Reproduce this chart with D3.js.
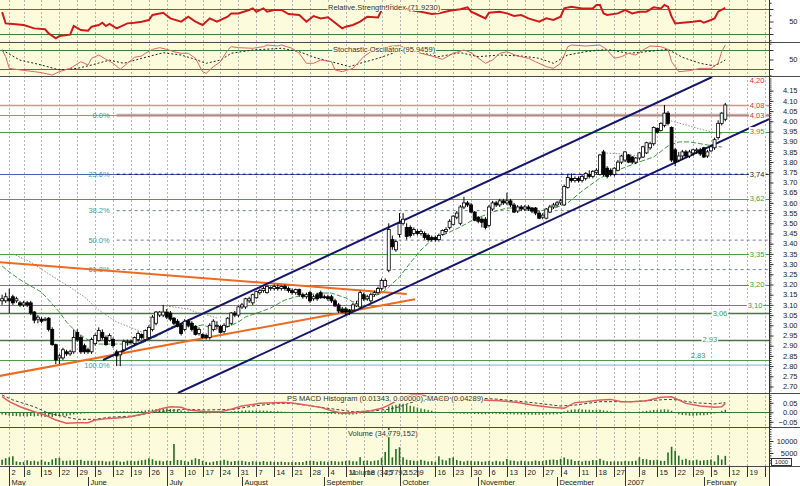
<!DOCTYPE html>
<html>
<head>
<meta charset="utf-8">
<script src="https://cdn.jsdelivr.net/npm/d3@7/dist/d3.min.js"></script>
<style>
  body { margin: 0; background: #fff; }
  text { font-family: 'Liberation Sans', Arial, sans-serif; font-size: 7.5px; }
</style>
</head>
<body>
<div id="chart"></div>
<script>
/* global d3 */

// ----------------------------------------
// Data
// ----------------------------------------

const holidays = ['2006-05-01', '2006-12-25', '2006-12-26', '2007-01-01']

const opens = [
  3.12, 3.12, 3.13, 3.14, 3.12, 3.11, 3.10, 3.11, 3.11, 3.065,
  3.03, 3.03, 3.03, 3.035, 2.98, 2.905, 2.84, 2.84, 2.87, 2.86,
  2.87, 2.965, 2.94, 2.90, 2.88, 2.87, 2.91, 2.925, 2.965, 2.94,
  2.925, 2.93, 2.87, 2.855, 2.88, 2.915, 2.92, 2.91, 2.93, 2.955,
  2.93, 2.94, 2.98, 3.01, 3.05, 3.05, 3.065, 3.06, 3.035, 3.02,
  3.00, 2.98, 3.02, 3.01, 2.995, 2.96, 2.955, 2.95, 2.94, 2.98,
  3.00, 2.995, 2.97, 2.995, 3.01, 3.06, 3.05, 3.09, 3.09, 3.12,
  3.11, 3.135, 3.16, 3.17, 3.16, 3.18, 3.18, 3.185, 3.18, 3.19,
  3.18, 3.17, 3.16, 3.175, 3.15, 3.14, 3.16, 3.13, 3.15, 3.16,
  3.14, 3.14, 3.14, 3.12, 3.10, 3.08, 3.08, 3.075, 3.075, 3.095,
  3.09, 3.15, 3.13, 3.12, 3.15, 3.16, 3.18, 3.19, 3.27, 3.42,
  3.37, 3.445, 3.50, 3.48, 3.48, 3.45, 3.46, 3.45, 3.45, 3.44,
  3.43, 3.43, 3.42, 3.445, 3.46, 3.48, 3.495, 3.53, 3.50, 3.58,
  3.60, 3.59, 3.555, 3.53, 3.52, 3.52, 3.49, 3.57, 3.60, 3.59,
  3.61, 3.60, 3.61, 3.59, 3.56, 3.58, 3.57, 3.58, 3.575, 3.575,
  3.55, 3.53, 3.525, 3.555, 3.58, 3.59, 3.60, 3.59, 3.675, 3.72,
  3.71, 3.72, 3.71, 3.72, 3.74, 3.73, 3.75, 3.74, 3.85, 3.77,
  3.76, 3.74, 3.76, 3.80, 3.81, 3.835, 3.825, 3.80, 3.82, 3.825,
  3.845, 3.87, 3.89, 3.965, 3.955, 3.98, 4.04, 3.97, 3.86, 3.81,
  3.83, 3.85, 3.83, 3.845, 3.855, 3.86, 3.87, 3.83, 3.855, 3.87,
  3.92, 3.99, 4.01
]
const highs = [
  3.15, 3.16, 3.18, 3.15, 3.14, 3.12, 3.12, 3.12, 3.12, 3.07,
  3.05, 3.04, 3.04, 3.04, 2.99, 2.91, 2.86, 2.89, 2.88, 2.88,
  2.98, 2.98, 2.95, 2.91, 2.89, 2.94, 2.96, 2.99, 2.98, 2.95,
  2.96, 2.94, 2.88, 2.87, 2.93, 2.93, 2.93, 2.945, 2.97, 2.96,
  2.98, 3.00, 3.05, 3.07, 3.07, 3.10, 3.08, 3.07, 3.04, 3.03,
  3.01, 3.03, 3.03, 3.02, 3.00, 2.99, 2.96, 2.96, 3.01, 3.03,
  3.02, 3.00, 3.01, 3.04, 3.065, 3.07, 3.095, 3.11, 3.135, 3.14,
  3.155, 3.17, 3.18, 3.19, 3.195, 3.19, 3.20, 3.20, 3.195, 3.20,
  3.19, 3.18, 3.18, 3.18, 3.16, 3.16, 3.17, 3.15, 3.16, 3.17,
  3.15, 3.15, 3.15, 3.13, 3.11, 3.09, 3.09, 3.08, 3.11, 3.12,
  3.17, 3.16, 3.15, 3.16, 3.17, 3.19, 3.23, 3.23, 3.50, 3.44,
  3.42, 3.55, 3.55, 3.50, 3.49, 3.48, 3.47, 3.47, 3.46, 3.45,
  3.44, 3.44, 3.45, 3.47, 3.48, 3.52, 3.54, 3.56, 3.59, 3.63,
  3.61, 3.60, 3.56, 3.535, 3.53, 3.53, 3.59, 3.61, 3.61, 3.62,
  3.62, 3.65, 3.62, 3.60, 3.59, 3.59, 3.59, 3.59, 3.58, 3.58,
  3.56, 3.55, 3.575, 3.59, 3.60, 3.61, 3.62, 3.69, 3.74, 3.745,
  3.73, 3.73, 3.74, 3.75, 3.76, 3.76, 3.77, 3.84, 3.86, 3.78,
  3.77, 3.775, 3.81, 3.835, 3.855, 3.84, 3.83, 3.825, 3.85, 3.88,
  3.90, 3.90, 3.975, 3.97, 3.995, 4.08, 4.05, 3.975, 3.87, 3.85,
  3.86, 3.86, 3.86, 3.865, 3.87, 3.87, 3.875, 3.86, 3.885, 3.92,
  4.005, 4.045, 4.09
]
const lows = [
  3.10, 3.11, 3.06, 3.10, 3.11, 3.09, 3.09, 3.09, 3.05, 3.01,
  3.01, 3.01, 3.02, 2.97, 2.90, 2.81, 2.81, 2.83, 2.85, 2.85,
  2.86, 2.92, 2.86, 2.86, 2.86, 2.86, 2.90, 2.92, 2.93, 2.90,
  2.92, 2.89, 2.80, 2.80, 2.87, 2.90, 2.91, 2.90, 2.92, 2.93,
  2.92, 2.93, 2.97, 3.00, 3.04, 3.04, 3.03, 3.02, 3.00, 2.99,
  2.95, 2.97, 2.99, 2.97, 2.95, 2.95, 2.935, 2.93, 2.93, 2.97,
  2.98, 2.96, 2.96, 2.99, 3.00, 3.04, 3.04, 3.08, 3.08, 3.11,
  3.10, 3.13, 3.15, 3.16, 3.155, 3.17, 3.17, 3.17, 3.17, 3.17,
  3.16, 3.15, 3.15, 3.14, 3.13, 3.13, 3.11, 3.12, 3.12, 3.13,
  3.13, 3.12, 3.11, 3.09, 3.06, 3.06, 3.05, 3.05, 3.07, 3.09,
  3.08, 3.12, 3.12, 3.11, 3.14, 3.15, 3.17, 3.18, 3.26, 3.37,
  3.36, 3.43, 3.49, 3.42, 3.43, 3.44, 3.44, 3.44, 3.42, 3.41,
  3.41, 3.41, 3.41, 3.44, 3.45, 3.47, 3.49, 3.52, 3.49, 3.57,
  3.58, 3.55, 3.51, 3.50, 3.48, 3.47, 3.48, 3.56, 3.58, 3.58,
  3.59, 3.59, 3.58, 3.55, 3.55, 3.56, 3.56, 3.56, 3.55, 3.54,
  3.52, 3.52, 3.52, 3.55, 3.57, 3.58, 3.59, 3.585, 3.67, 3.70,
  3.70, 3.70, 3.70, 3.71, 3.72, 3.72, 3.74, 3.735, 3.73, 3.72,
  3.73, 3.73, 3.755, 3.79, 3.80, 3.795, 3.79, 3.79, 3.81, 3.82,
  3.84, 3.86, 3.88, 3.94, 3.95, 3.97, 3.98, 3.80, 3.78, 3.80,
  3.81, 3.82, 3.82, 3.83, 3.84, 3.83, 3.82, 3.82, 3.85, 3.86,
  3.91, 3.98, 4.00
]
const closes = [
  3.13, 3.14, 3.12, 3.11, 3.13, 3.10, 3.11, 3.10, 3.06, 3.025,
  3.04, 3.02, 3.03, 2.98, 2.905, 2.83, 2.85, 2.88, 2.86, 2.87,
  2.94, 2.93, 2.87, 2.87, 2.87, 2.93, 2.95, 2.975, 2.94, 2.905,
  2.95, 2.90, 2.85, 2.87, 2.92, 2.92, 2.915, 2.94, 2.96, 2.94,
  2.975, 2.99, 3.04, 3.065, 3.065, 3.065, 3.04, 3.03, 3.01, 2.995,
  2.96, 3.02, 3.00, 2.98, 2.955, 2.98, 2.94, 2.94, 3.00, 3.02,
  3.00, 2.965, 3.00, 3.035, 3.06, 3.05, 3.09, 3.10, 3.13, 3.13,
  3.15, 3.165, 3.17, 3.18, 3.19, 3.185, 3.19, 3.18, 3.19, 3.18,
  3.17, 3.16, 3.175, 3.15, 3.14, 3.15, 3.12, 3.14, 3.13, 3.135,
  3.135, 3.13, 3.12, 3.095, 3.07, 3.065, 3.065, 3.065, 3.10, 3.105,
  3.16, 3.13, 3.14, 3.15, 3.16, 3.18, 3.22, 3.22, 3.47, 3.385,
  3.41, 3.50, 3.52, 3.435, 3.44, 3.47, 3.45, 3.46, 3.43, 3.42,
  3.42, 3.42, 3.44, 3.465, 3.47, 3.51, 3.535, 3.55, 3.58, 3.60,
  3.59, 3.555, 3.515, 3.51, 3.505, 3.48, 3.58, 3.60, 3.59, 3.61,
  3.60, 3.61, 3.59, 3.555, 3.58, 3.57, 3.58, 3.57, 3.56, 3.55,
  3.525, 3.54, 3.57, 3.58, 3.59, 3.60, 3.61, 3.68, 3.725, 3.71,
  3.72, 3.71, 3.73, 3.745, 3.73, 3.755, 3.76, 3.835, 3.74, 3.73,
  3.74, 3.77, 3.80, 3.83, 3.85, 3.80, 3.80, 3.82, 3.845, 3.875,
  3.895, 3.89, 3.97, 3.945, 3.99, 4.04, 3.99, 3.81, 3.80, 3.83,
  3.85, 3.83, 3.85, 3.86, 3.86, 3.84, 3.825, 3.85, 3.875, 3.91,
  3.99, 4.04, 4.08
]

const volumes = [
  2200, 2800, 3200, 3600, 1500, 1200, 1300, 2000, 1600, 1800,
  1500, 2200, 1500, 1300, 2300, 2800, 3000, 1800, 1800, 1900,
  1900, 2100, 2200, 1700, 1800, 1800, 1600, 1800, 1700, 1500,
  1500, 1800, 1800, 1400, 1400, 1800, 1800, 1600, 1800, 2000,
  2200, 2800, 2400, 1800, 1800, 1500, 1800, 1700, 8800, 2100,
  2000, 1600, 1400, 2200, 2800, 2500, 1700, 1400, 1100, 1400,
  1700, 1800, 2200, 1800, 1400, 1700, 1700, 1800, 1500, 1300,
  1600, 1400, 1400, 1700, 1400, 1500, 1200, 1300, 1400, 1200,
  1200, 1300, 1200, 1200, 1300, 1700, 1800, 1700, 1400, 1600,
  1500, 1300, 1700, 1600, 1400, 1500, 1700, 1900, 1600, 1500,
  3200, 1700, 1900, 1600, 1800, 2000, 3000, 5400, 16500, 3200,
  6700, 7400, 3200, 2200, 2000, 1800, 1600, 2200, 1800, 1500,
  1600, 1300, 3600, 2200, 1900, 2900, 3200, 2100, 1700, 1500,
  1800, 1700, 1500, 1600, 1400, 1500, 1700, 1400, 1800, 1500,
  1500, 2500, 1900, 1800, 1500, 1800, 1600, 1500, 1600, 1900,
  1700, 1600, 2000, 2200, 2300, 2100, 2600, 3100, 2400, 2300,
  1700, 1700, 1500, 1800, 1700, 2100, 2000, 2600, 1900, 1600,
  1500, 1500, 1600, 1500, 1700, 1600, 1600, 1800, 3200, 2500,
  2400, 2100, 2000, 2200, 1800, 1700, 5200, 7600, 5900, 3900,
  2200, 2600, 2000, 1900, 2200, 1800, 2000, 2100, 2300, 1500,
  4100, 2300, 3800
]

const macdHist = [
  -0.012, -0.015, -0.018, -0.02, -0.02, -0.022, -0.02, -0.022, -0.02, -0.022,
  -0.02, -0.022, -0.025, -0.022, -0.025, -0.02, -0.02, -0.018, -0.02, -0.015,
  -0.012, -0.01, -0.008, -0.006, -0.005, -0.004, -0.003, -0.002, -0.002, -0.001,
  0.002, 0.002, 0.004, 0.004, 0.005, 0.005, 0.004, 0.005, 0.006, 0.008,
  0.01, 0.012, 0.015, 0.018, 0.02, 0.02, 0.02, 0.018, 0.016, 0.014,
  0.01, 0.006, 0.004, 0.002, -0.002, -0.004, -0.005, -0.006, -0.005, -0.004,
  -0.003, -0.002, -0.002, 0.002, 0.004, 0.006, 0.008, 0.009, 0.01, 0.01,
  0.01, 0.01, 0.01, 0.009, 0.008, 0.007, 0.006, 0.005, 0.004, 0.003,
  0.002, 0.002, 0.001, -0.001, -0.002, -0.003, -0.004, -0.004, -0.005, -0.005,
  -0.006, -0.007, -0.008, -0.009, -0.01, -0.011, -0.012, -0.012, -0.011, -0.01,
  -0.006, -0.005, -0.004, -0.003, -0.002, 0.0, 0.005, 0.01, 0.03, 0.035,
  0.04, 0.045, 0.045, 0.04, 0.035, 0.03, 0.025, 0.02, 0.016, 0.012,
  0.008, 0.004, 0.002, -0.002, -0.004, -0.005, -0.006, -0.006, -0.007, -0.007,
  -0.008, -0.008, -0.009, -0.009, -0.01, -0.01, -0.009, -0.008, -0.008, -0.009,
  -0.009, -0.01, -0.01, -0.011, -0.011, -0.012, -0.012, -0.012, -0.013, -0.013,
  -0.013, -0.013, -0.012, -0.012, -0.011, -0.01, -0.008, 0.004, 0.01, 0.014,
  0.016, 0.016, 0.015, 0.014, 0.013, 0.012, 0.012, 0.013, 0.01, 0.008,
  0.006, 0.004, 0.002, 0.002, 0.003, 0.003, 0.002, 0.002, 0.004, 0.006,
  0.008, 0.01, 0.012, 0.014, 0.015, 0.016, 0.015, 0.008, -0.004, -0.01,
  -0.014, -0.016, -0.018, -0.018, -0.017, -0.016, -0.015, -0.013, -0.01, -0.006,
  0.002, 0.008, 0.014
]

// indicator lines as [trading day index, value]
const rsiPts = [[0, 65], [1, 47], [3, 46], [6, 44.4], [9, 39], [12, 37.5], [13, 31], [15, 23], [16, 26.8], [19, 29], [20, 42.8], [22, 36.4], [24, 35.3], [25, 41.7], [27, 44.4], [28, 48], [29, 42.8], [30, 46], [32, 39], [35, 47], [37, 48], [39, 49.7], [41, 52.4], [42, 60.4], [45, 64], [47, 55], [50, 49.7], [52, 57.7], [54, 49.7], [56, 44.4], [58, 55], [60, 49.7], [63, 57.7], [64, 63], [66, 63], [69, 68.4], [70, 71], [71, 65.7], [73, 71], [74, 65.7], [76, 68.4], [78, 68.4], [80, 62], [83, 60.4], [85, 49.7], [87, 58.8], [89, 55], [91, 56.6], [92, 52.4], [95, 39], [96, 41.7], [98, 44.4], [100, 49.7], [102, 57.7], [105, 56.6], [106, 68.4], [108, 76.4], [111, 72.5], [114, 68.4], [117, 65.7], [120, 62], [122, 63], [125, 67.3], [128, 69.5], [130, 72.7], [131, 65.7], [133, 60.4], [135, 55], [136, 64], [139, 65.7], [141, 63], [143, 58.8], [145, 60.4], [147, 55], [150, 49.7], [152, 55], [154, 52.4], [156, 57.7], [157, 71], [159, 73.7], [162, 71], [165, 71], [166, 76.4], [167, 76.4], [168, 63], [169, 60.4], [172, 63], [174, 68.4], [176, 63], [178, 65.7], [180, 65.7], [182, 72.7], [184, 71], [185, 76.4], [186, 73.7], [187, 57.7], [188, 47], [190, 48], [193, 49.7], [195, 51.3], [196, 48], [198, 52.4], [199, 55], [200, 65.7], [202, 71.9]]

const stoKPts = [[0, 80], [1, 59], [2, 22], [5, 17], [9, 11.6], [11, 8.4], [14, 1], [16, 11.6], [19, 22], [22, 43], [24, 32.6], [25, 53.8], [27, 64.2], [29, 50.6], [31, 38], [33, 19], [35, 38], [37, 57], [39, 61], [40, 69.6], [42, 82], [44, 87.4], [46, 82], [48, 74.7], [50, 69.6], [52, 69.6], [54, 53.8], [56, 11.6], [57, 6.4], [59, 27.4], [61, 43], [63, 80], [64, 90.5], [66, 87.4], [70, 85.4], [73, 90.5], [74, 95.8], [77, 92.6], [78, 95.8], [81, 85.4], [83, 69.6], [85, 38], [87, 38], [89, 48.4], [92, 43], [93, 17], [95, 11.6], [98, 22], [101, 59], [103, 74.7], [105, 85.4], [107, 90.5], [111, 94], [114, 80], [117, 69.6], [120, 61], [123, 50.6], [126, 69.6], [129, 80], [131, 71.5], [135, 38], [137, 48.4], [139, 69.6], [141, 74.7], [144, 61], [147, 53.8], [149, 43], [152, 27.4], [154, 22], [156, 38], [158, 90.5], [159, 95.8], [163, 92.6], [167, 95.8], [169, 80], [171, 53.8], [173, 59], [175, 69.6], [177, 64.2], [179, 80], [181, 92.6], [184, 90.5], [186, 82], [187, 43], [189, 11.6], [192, 14.8], [195, 22], [198, 22], [200, 38], [201, 74.7], [202, 95.9]]

const stoDPts = [[0, 80], [5, 48], [11, 32.6], [16, 17], [21, 22], [25, 32.6], [30, 48], [34, 38], [39, 53.8], [45, 71.5], [50, 64.2], [53, 53.8], [57, 38], [61, 48.4], [64, 69.6], [70, 80], [78, 85.4], [83, 74.7], [88, 53.8], [92, 43], [97, 27.4], [100, 38], [105, 53.8], [111, 77], [117, 71.5], [122, 59], [128, 71.5], [133, 59], [139, 64.2], [145, 61], [150, 53.8], [154, 38], [158, 64.2], [163, 74.7], [169, 82], [175, 69.6], [180, 74.7], [186, 82], [190, 57], [195, 38], [199, 29.5], [202, 48.4]]

const macdPts = [[0, 0.082], [2, 0.056], [5, 0.029], [9, 0.003], [12, -0.014], [15, -0.041], [18, -0.058], [21, -0.055], [24, -0.055], [26, -0.041], [30, -0.032], [35, -0.026], [38, -0.014], [42, 0.003], [45, 0.021], [47, 0.029], [50, 0.026], [52, 0.012], [57, 0.003], [61, 0.003], [64, 0.016], [67, 0.033], [72, 0.047], [78, 0.051], [80, 0.051], [83, 0.044], [89, 0.026], [92, 0.008], [95, -0.005], [98, -0.002], [103, 0.008], [106, 0.021], [108, 0.038], [111, 0.07], [114, 0.09], [117, 0.091], [120, 0.082], [122, 0.074], [125, 0.074], [130, 0.068], [134, 0.065], [139, 0.061], [144, 0.051], [148, 0.038], [153, 0.026], [157, 0.021], [160, 0.051], [163, 0.056], [167, 0.065], [170, 0.068], [173, 0.056], [176, 0.056], [180, 0.061], [184, 0.079], [187, 0.082], [189, 0.065], [191, 0.047], [195, 0.033], [199, 0.026], [201, 0.029], [202, 0.047]]

const signalPts = [[0, 0.091], [3, 0.065], [9, 0.029], [13, -0.005], [18, -0.026], [21, -0.037], [26, -0.037], [30, -0.026], [37, -0.019], [41, -0.005], [46, 0.008], [51, 0.016], [57, 0.012], [65, 0.016], [70, 0.033], [77, 0.047], [81, 0.047], [88, 0.029], [93, 0.016], [98, 0.003], [104, 0.008], [108, 0.016], [111, 0.029], [114, 0.05], [117, 0.065], [122, 0.074], [128, 0.076], [134, 0.074], [139, 0.068], [148, 0.051], [156, 0.033], [160, 0.038], [167, 0.056], [176, 0.056], [186, 0.068], [189, 0.065], [193, 0.051], [199, 0.044], [202, 0.051]]

const maPts = [[0, 3.291], [2, 3.261], [6, 3.212], [11, 3.163], [13, 3.124], [16, 3.065], [18, 3.016], [21, 2.962], [25, 2.918], [27, 2.908], [35, 2.908], [39, 2.913], [41, 2.928], [44, 2.953], [47, 2.992], [50, 3.002], [53, 2.992], [56, 3.002], [60, 2.977], [63, 2.992], [66, 3.016], [68, 3.041], [72, 3.065], [75, 3.085], [79, 3.124], [83, 3.144], [89, 3.158], [92, 3.158], [96, 3.134], [98, 3.114], [102, 3.129], [106, 3.158], [108, 3.188], [111, 3.237], [114, 3.306], [117, 3.369], [120, 3.418], [122, 3.433], [125, 3.457], [128, 3.482], [132, 3.521], [137, 3.555], [141, 3.575], [145, 3.575], [148, 3.56], [153, 3.565], [158, 3.60], [162, 3.658], [167, 3.722], [172, 3.761], [178, 3.801], [182, 3.825], [186, 3.879], [189, 3.899], [192, 3.899], [197, 3.884], [201, 3.874]]

const sarSegs = [
  [[3, 3.35], [8, 3.31], [13, 3.252], [18, 3.198], [23, 3.139], [27, 3.075], [32, 3.016], [37, 2.982], [39, 2.967]],
  [[45, 3.095], [48, 3.09], [52, 3.08], [54, 3.065], [57, 3.051], [60, 3.036]],
  [[168, 3.845], [173, 3.84], [178, 3.83]],
  [[186, 4.006], [192, 3.977], [196, 3.957], [201, 3.938]]
]

// trend lines, [day index, price]
const channelUpper = [[28.2, 2.83], [198.3, 4.217]]
const channelLower = [[49.1, 2.668], [214.2, 4.011]]
const orangeTop = [[-0.6, 3.309], [113, 3.154]]
const orangeBottom = [[-0.6, 2.752], [115.3, 3.128]]

// horizontal levels
const levels = [4.20, 4.08, 4.03, 3.95, 3.74, 3.62, 3.35, 3.20, 3.10, 3.06, 2.93, 2.83]
const levelLabelAt = [210.9, 210.9, 210.9, 210.9, 210.9, 210.9, 210.9, 210.9, 210.3, 200.5, 197.7, 194.4]

// fibonacci retracement
const fibHigh = 4.03
const fibLow = 2.805
const fibStart = 32
const fibRatios = [0, 0.236, 0.382, 0.5, 0.618, 1]

// time axis
const weekTicks = ['2006-05-02', '2006-05-08', '2006-05-15', '2006-05-22', '2006-05-29', '2006-06-05', '2006-06-12', '2006-06-19', '2006-06-26', '2006-07-03', '2006-07-10', '2006-07-17', '2006-07-24', '2006-07-31', '2006-08-07', '2006-08-14', '2006-08-21', '2006-08-28', '2006-09-04', '2006-09-11', '2006-09-18', '2006-09-25', '2006-10-02', '2006-10-09', '2006-10-16', '2006-10-23', '2006-10-30', '2006-11-06', '2006-11-13', '2006-11-20', '2006-11-27', '2006-12-04', '2006-12-11', '2006-12-18', '2006-12-27', '2007-01-02', '2007-01-08', '2007-01-15', '2007-01-22', '2007-01-29', '2007-02-05', '2007-02-12', '2007-02-19', '2007-02-26']
const weekLabels = ['2', '8', '15', '22', '29', '5', '12', '19', '26', '3', '10', '17', '24', '31', '7', '14', '21', '28', '4', '11', '18', '25', '2', '9', '16', '23', '30', '6', '13', '20', '27', '4', '11', '18', '27', '', '8', '15', '22', '29', '5', '12', '19', '']
const monthTicks = ['2006-05-02', '2006-06-01', '2006-07-03', '2006-08-01', '2006-09-01', '2006-10-02', '2006-11-01', '2006-12-01', '2007-01-02', '2007-02-01']
const monthLabels = ['May', 'June', 'July', 'August', 'September', 'October', 'November', 'December', '2007', 'February']

// trading calendar
const fmtDay = d3.timeFormat('%Y-%m-%d')
const tradingDays = d3.timeDay.range(new Date(2006, 3, 27), new Date(2007, 2, 1))
  .filter(d => d.getDay() !== 0 && d.getDay() !== 6)
  .map(fmtDay)
  .filter(d => holidays.indexOf(d) === -1)

// ----------------------------------------
// Layout
// ----------------------------------------

const width = 800
const height = 486
const plotR = 769
const yellow = '#fcfcdc'

const x = d3.scaleLinear().domain([0, 202]).range([2.1, 725.3])
const yPrice = d3.scaleLinear().domain([2.70, 4.15]).range([386.5, 90.7])
const yRsi = d3.scaleLinear().domain([30, 70]).range([34, 9])
const ySto = d3.scaleLinear().domain([20, 80]).range([69, 50])
const yMacd = d3.scaleLinear().domain([-0.05, 0.05]).range([421.8, 402.8])
const yVol = d3.scaleLinear().domain([0, 10000]).range([465, 441])

const svg = d3.select('#chart').append('svg')
  .attr('width', width)
  .attr('height', height)
  .style('display', 'block')

const panels = [
  { top: 0, bottom: 42, fill: yellow },
  { top: 42, bottom: 76, fill: yellow },
  { top: 76, bottom: 393, fill: '#ffffff' },
  { top: 393, bottom: 427, fill: yellow },
  { top: 427, bottom: 466, fill: yellow },
  { top: 466, bottom: 486, fill: yellow }
]

svg.append('rect').attr('width', width).attr('height', height).attr('fill', '#fff')
svg.selectAll('rect.panel').data(panels).enter().append('rect')
  .attr('class', 'panel')
  .attr('x', 0).attr('y', d => d.top)
  .attr('width', plotR).attr('height', d => d.bottom - d.top)
  .attr('fill', d => d.fill)

const defs = svg.append('defs')
function clip (id, top, bottom) {
  defs.append('clipPath').attr('id', id).append('rect')
    .attr('x', 0).attr('y', top).attr('width', plotR).attr('height', bottom - top)
  return 'url(#' + id + ')'
}

// weekly grid
const weekIdx = weekTicks.map(d => tradingDays.indexOf(d))
svg.append('g').selectAll('line').data(weekIdx).enter().append('line')
  .attr('x1', d => Math.round(x(d)) + 0.5).attr('x2', d => Math.round(x(d)) + 0.5)
  .attr('y1', 0).attr('y2', 466)
  .attr('stroke', '#b5b5b5').attr('stroke-dasharray', '2,2')

// ----------------------------------------
// RSI and stochastic
// ----------------------------------------

const lineOf = y => d3.line().x(d => x(d[0])).y(d => y(d[1]))

const rsiG = svg.append('g').attr('clip-path', clip('clipRsi', 0, 42))
rsiG.selectAll('line').data([70, 30]).enter().append('line')
  .attr('x1', 0).attr('x2', plotR)
  .attr('y1', d => yRsi(d) + 0.5).attr('y2', d => yRsi(d) + 0.5)
  .attr('stroke', '#3b7d3b')
rsiG.append('path').datum(rsiPts).attr('d', lineOf(yRsi))
  .attr('fill', 'none').attr('stroke', '#d01a1a').attr('stroke-width', 2)

const stoG = svg.append('g').attr('clip-path', clip('clipSto', 42, 76))
stoG.selectAll('line').data([80, 20]).enter().append('line')
  .attr('x1', 0).attr('x2', plotR)
  .attr('y1', d => ySto(d) + 0.5).attr('y2', d => ySto(d) + 0.5)
  .attr('stroke', '#3b7d3b')
stoG.append('path').datum(stoDPts).attr('d', lineOf(ySto))
  .attr('fill', 'none').attr('stroke', '#222').attr('stroke-dasharray', '2,2')
stoG.append('path').datum(stoKPts).attr('d', lineOf(ySto))
  .attr('fill', 'none').attr('stroke', '#e06464').attr('stroke-width', 1)

// ----------------------------------------
// Price panel
// ----------------------------------------

const main = svg.append('g').attr('clip-path', clip('clipMain', 77, 393))

const levelColor = ['none', '#e58a8a', '#e07474', '#4e9a4e', '#4a5fb0', '#4e9a4e', '#4e9a4e', '#4e9a4e', '#4e9a4e', '#4f6f4f', '#4f6f4f', '#4e9a4e']
const levelWidth = [0, 1.5, 1, 1, 1, 1, 1, 1, 1, 1.5, 1.5, 1]
const labelColor = ['#e03030', '#e03030', '#e03030', '#3a9f3a', '#222', '#3a9f3a', '#3a9f3a', '#3a9f3a', '#3a9f3a', '#3a9f3a', '#3a9f3a', '#3a9f3a']

// fib levels
const fibs = fibRatios.map(r => ({ r, p: fibHigh - r * (fibHigh - fibLow) }))
const fibStyle = {
  0: { c: '#c9a9a9', w: 3, dash: null },
  0.236: { c: '#1c2a78', w: 1, dash: '3,3' },
  0.382: { c: '#6f7d9a', w: 1, dash: '3,3' },
  0.5: { c: '#6f7d9a', w: 1, dash: '3,3' },
  0.618: { c: '#6f7d9a', w: 1, dash: '3,3' },
  1: { c: '#72b6d6', w: 1, dash: null }
}
main.selectAll('line.fib').data(fibs).enter().append('line')
  .attr('class', 'fib')
  .attr('x1', x(fibStart)).attr('x2', plotR)
  .attr('y1', d => yPrice(d.p)).attr('y2', d => yPrice(d.p))
  .attr('stroke', d => fibStyle[d.r].c)
  .attr('stroke-width', d => fibStyle[d.r].w)
  .attr('stroke-dasharray', d => fibStyle[d.r].dash)

main.selectAll('line.level').data(levels).enter().append('line')
  .attr('class', 'level')
  .attr('x1', 0).attr('x2', plotR)
  .attr('y1', d => Math.round(yPrice(d)) + 0.5).attr('y2', d => Math.round(yPrice(d)) + 0.5)
  .attr('stroke', (d, i) => levelColor[i])
  .attr('stroke-width', (d, i) => levelWidth[i])

// 23.6% dashes sit on top of the 3.74 line
main.append('line')
  .attr('x1', x(fibStart)).attr('x2', plotR)
  .attr('y1', Math.round(yPrice(fibs[1].p)) + 0.5).attr('y2', Math.round(yPrice(fibs[1].p)) + 0.5)
  .attr('stroke', '#1c2a78').attr('stroke-dasharray', '3,3')

main.selectAll('text.fib').data(fibs).enter().append('text')
  .attr('class', 'fib')
  .attr('x', x(fibStart) - 7)
  .attr('y', d => yPrice(d.p) + 2.5)
  .attr('text-anchor', 'end')
  .attr('fill', '#3d9a9a')
  .text(d => d3.format('.1f')(d.r * 100) + '%')

// moving average and stop lines
main.append('path').datum(maPts).attr('d', lineOf(yPrice))
  .attr('fill', 'none').attr('stroke', '#3a9a3a').attr('stroke-dasharray', '5,2')
main.selectAll('path.sar').data(sarSegs).enter().append('path')
  .attr('class', 'sar')
  .attr('d', lineOf(yPrice))
  .attr('fill', 'none').attr('stroke', '#8f8f8f').attr('stroke-dasharray', '1.5,1.5')

// trend lines
const trend = [
  { pts: orangeTop, c: '#ef6a1e' },
  { pts: orangeBottom, c: '#ef6a1e' },
  { pts: channelUpper, c: '#15156b' },
  { pts: channelLower, c: '#15156b' }
]
main.selectAll('path.trend').data(trend).enter().append('path')
  .attr('class', 'trend')
  .attr('d', d => lineOf(yPrice)(d.pts))
  .attr('fill', 'none').attr('stroke', d => d.c).attr('stroke-width', 2)

// candles
const candles = opens.map((o, i) => ({
  i, o, c: closes[i],
  h: Math.max(highs[i], o, closes[i]),
  l: Math.min(lows[i], o, closes[i])
}))
const cg = main.append('g')
cg.selectAll('line').data(candles).enter().append('line')
  .attr('x1', d => x(d.i)).attr('x2', d => x(d.i))
  .attr('y1', d => yPrice(d.h)).attr('y2', d => yPrice(d.l))
  .attr('stroke', '#000').attr('stroke-width', 1)
cg.selectAll('rect').data(candles).enter().append('rect')
  .attr('x', d => x(d.i) - 1.5).attr('width', 3)
  .attr('y', d => yPrice(Math.max(d.o, d.c)))
  .attr('height', d => Math.max(1, Math.abs(yPrice(d.o) - yPrice(d.c))))
  .attr('fill', d => d.c >= d.o ? '#fff' : '#000')
  .attr('stroke', '#000').attr('stroke-width', 0.8)

// level labels
const levelLabels = main.selectAll('g.lvl').data(levels).enter().append('g').attr('class', 'lvl')
levelLabels.each(function (d, i) {
  const g = d3.select(this)
  const above = i === levels.length - 1
  const t = g.append('text')
    .attr('x', x(levelLabelAt[i]))
    .attr('y', yPrice(d) + (above ? -2 : 2.6))
    .attr('text-anchor', 'middle')
    .attr('fill', labelColor[i])
    .text(d3.format('.2f')(d).replace('.', ','))
  if (!above && i > 0) {
    const b = t.node().getBBox()
    g.insert('rect', 'text')
      .attr('x', b.x - 1).attr('y', b.y).attr('width', b.width + 2).attr('height', b.height)
      .attr('fill', '#fff')
  }
})

// ----------------------------------------
// MACD and volume
// ----------------------------------------

const macdG = svg.append('g').attr('clip-path', clip('clipMacd', 394, 427))
macdG.append('line')
  .attr('x1', 0).attr('x2', plotR)
  .attr('y1', Math.round(yMacd(0)) + 0.5).attr('y2', Math.round(yMacd(0)) + 0.5)
  .attr('stroke', '#2e7d2e')
macdG.selectAll('line.bar').data(macdHist).enter().append('line')
  .attr('class', 'bar')
  .attr('x1', (d, i) => x(i)).attr('x2', (d, i) => x(i))
  .attr('y1', yMacd(0)).attr('y2', d => yMacd(d))
  .attr('stroke', '#2a7a2a').attr('stroke-width', 1.4)
macdG.append('path').datum(signalPts).attr('d', lineOf(yMacd))
  .attr('fill', 'none').attr('stroke', '#444').attr('stroke-dasharray', '3,2')
macdG.append('path').datum(macdPts).attr('d', lineOf(yMacd))
  .attr('fill', 'none').attr('stroke', '#e25c5c').attr('stroke-width', 1.5)

const volG = svg.append('g').attr('clip-path', clip('clipVol', 428, 466))
volG.selectAll('line').data(volumes).enter().append('line')
  .attr('x1', (d, i) => x(i)).attr('x2', (d, i) => x(i))
  .attr('y1', yVol(0)).attr('y2', d => yVol(d))
  .attr('stroke', '#1f6f1f').attr('stroke-width', 1.6)

// ----------------------------------------
// Titles
// ----------------------------------------

const titles = [
  { x: 328, y: 10, t: 'Relative Strength Index (71.9230)' },
  { x: 333, y: 52, t: 'Stochastic Oscillator (95.9459)' },
  { x: 287, y: 401, t: 'PS MACD Histogram (0.01343, 0.00000), MACD (0.04289)' },
  { x: 348, y: 436, t: 'Volume (34,779,152)' }
]
svg.selectAll('text.title').data(titles).enter().append('text')
  .attr('class', 'title')
  .attr('x', d => d.x).attr('y', d => d.y)
  .attr('fill', '#333')
  .attr('stroke', yellow).attr('stroke-width', 2).attr('paint-order', 'stroke')
  .text(d => d.t)

// panel separators
svg.selectAll('line.sep').data([42, 76, 393, 427, 466]).enter().append('line')
  .attr('class', 'sep')
  .attr('x1', 0).attr('x2', width)
  .attr('y1', d => d + 0.5).attr('y2', d => d + 0.5)
  .attr('stroke', '#4a4a4a')

// ----------------------------------------
// Right axes
// ----------------------------------------

svg.append('line')
  .attr('x1', plotR + 0.5).attr('x2', plotR + 0.5)
  .attr('y1', 0).attr('y2', 486)
  .attr('stroke', '#333')

function rightAxis (scale, major, minor, fmt, labelled) {
  const gMin = svg.append('g').attr('transform', 'translate(' + (plotR + 0.5) + ',0)')
    .call(d3.axisRight(scale).tickValues(minor).tickSize(2).tickFormat(''))
  gMin.select('.domain').remove()
  const g = svg.append('g').attr('transform', 'translate(' + (plotR + 0.5) + ',0)')
    .attr('font-size', 7.5)
    .call(d3.axisRight(scale).tickValues(major).tickSize(4).tickFormat(fmt))
  g.select('.domain').remove()
  g.selectAll('line').attr('stroke', '#333')
  gMin.selectAll('line').attr('stroke', '#333')
  g.selectAll('text')
    .attr('x', 28).attr('dy', '0.3em')
    .attr('text-anchor', 'end').attr('fill', '#222')
    .text(d => labelled(d) ? fmt(d) : '')
}

const priceMajor = d3.range(270, 416, 5).map(v => v / 100)
const priceMinor = d3.range(268, 422).map(v => v / 100)
rightAxis(yPrice, priceMajor, priceMinor, d3.format('.2f'), () => true)
rightAxis(yRsi, [30, 50, 70], [20, 40, 60, 80], d3.format('d'), d => d === 50)
rightAxis(ySto, [20, 50, 80], [0, 100], d3.format('d'), d => d === 50)
rightAxis(yMacd, [-0.05, 0, 0.05], d3.range(-7, 10).map(v => v / 100), d3.format('.2f'), () => true)
rightAxis(yVol, [5000, 10000], d3.range(1000, 16000, 1000), d3.format('d'), () => true)

// unit box on the volume axis
const unit = svg.append('g')
unit.append('rect').attr('x', 771.5).attr('y', 458.5).attr('width', 20).attr('height', 7)
  .attr('fill', '#fff').attr('stroke', '#333')
unit.append('text').attr('x', 781.5).attr('y', 464.3).attr('text-anchor', 'middle')
  .style('font-size', '6px').attr('fill', '#222').text('1000')

// ----------------------------------------
// Date axis
// ----------------------------------------

const dateG = svg.append('g')
dateG.selectAll('line.wk').data(weekIdx).enter().append('line')
  .attr('class', 'wk')
  .attr('x1', d => Math.round(x(d)) + 0.5).attr('x2', d => Math.round(x(d)) + 0.5)
  .attr('y1', 466).attr('y2', 477)
  .attr('stroke', '#333')
dateG.selectAll('text.wk').data(weekIdx).enter().append('text')
  .attr('class', 'wk')
  .attr('x', d => Math.round(x(d)) + 2.5).attr('y', 475)
  .attr('fill', '#222')
  .text((d, i) => weekLabels[i])

const monthIdx = monthTicks.map(d => tradingDays.indexOf(d))
dateG.selectAll('line.mo').data(monthIdx).enter().append('line')
  .attr('class', 'mo')
  .attr('x1', d => Math.round(x(d)) + 0.5).attr('x2', d => Math.round(x(d)) + 0.5)
  .attr('y1', 477).attr('y2', 486)
  .attr('stroke', '#333')
dateG.selectAll('text.mo').data(monthIdx).enter().append('text')
  .attr('class', 'mo')
  .attr('x', d => Math.round(x(d)) + 2.5).attr('y', 485)
  .attr('fill', '#222')
  .text((d, i) => monthLabels[i])

// stray copy of the volume caption printed over the date row
dateG.append('text').attr('x', 350).attr('y', 475).attr('fill', '#333')
  .text('Volume (34,779,152)')
</script>
</body>
</html>
